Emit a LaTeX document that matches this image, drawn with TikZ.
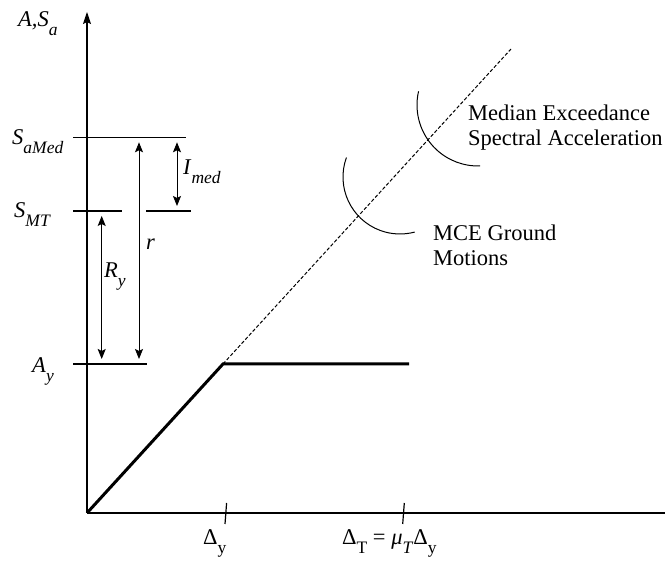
\documentclass[tikz,border=0pt]{standalone}
\usepackage{fontspec}
\setmainfont{Liberation Serif}
\usetikzlibrary{arrows.meta,positioning,calc}

% lowered, smaller subscript
\newcommand{\sub}[1]{\raisebox{-9pt}{\fontsize{17.5}{17.5}\selectfont#1}}

\begin{document}
\begin{tikzpicture}[x=1pt, y=1pt,
  axis/.style={line width=1.3pt},
  level/.style={line width=1.2pt},
  span/.style={line width=0.8pt,
               {Stealth[length=10pt,width=8pt,inset=2pt]}-{Stealth[length=10pt,width=8pt,inset=2pt]},
               shorten <=5pt, shorten >=5pt},
  curve/.style={line width=3pt},
  proj/.style={line width=1pt, dash pattern=on 3.5pt off 2pt},
  bracket/.style={line width=1pt},
  tick/.style={line width=1.2pt},
  lbl/.style={inner sep=0pt, anchor=base west, font=\fontsize{22.5}{22.5}\selectfont},
  note/.style={inner sep=0pt, anchor=north west, align=left,
               font=\fontsize{22.5}{25}\selectfont}]
  \useasboundingbox (0,0) rectangle (665,561);

  \coordinate (O) at (87,48);
  \coordinate (ytop) at (87,549);
  \coordinate (xend) at (665,48);
  \coordinate (Y) at (223,197);
  \coordinate (P) at (409,197);
  \coordinate (U) at (511,512);
  \coordinate (tk1) at (225.8,48);
  \coordinate (tk2) at (403.5,48);

  % axes
  \draw[axis, -{Stealth[length=12pt,width=8pt,inset=2pt]}] (O) -- (ytop);
  \draw[axis] (O) -- (xend);
  \draw[tick] ($(tk1)+(0.8,10)$) -- ($(tk1)+(-0.8,-11)$);
  \draw[tick] ($(tk2)+(0.8,10)$) -- ($(tk2)+(-0.8,-11)$);

  % levels
  \coordinate (med) at (87,423.7);
  \coordinate (mt) at (87,350);
  \coordinate (ay) at (87,197);
  \draw[level] ($(med)+(-14,0)$) -- ($(med)+(99,0)$);
  \draw[level] ($(mt)+(-14,0)$) -- ($(mt)+(35,0)$);
  \draw[level] ($(mt)+(59,0)$) -- ($(mt)+(104,0)$);
  \draw[level] ($(ay)+(-14,0)$) -- ($(ay)+(60,0)$);

  % spans
  \coordinate (Rtop) at (101.7,350);
  \coordinate (Rbot) at (101.7,197);
  \coordinate (rtop) at (139,423.7);
  \coordinate (rbot) at (139,197);
  \coordinate (itop) at (177,423.7);
  \coordinate (ibot) at (177,350);
  \draw[span] (Rtop) -- (Rbot);
  \draw[span] (rtop) -- (rbot);
  \draw[span] (itop) -- (ibot);

  % response
  \draw[proj] (Y) -- (U);
  \draw[curve, line join=miter] (O) -- (Y) -- (P);

  % arcs
  \draw[bracket] ($(478,456)+(167:61)$) arc[start angle=167, end angle=272, radius=61];
  \draw[bracket] ($(400,384)+(160:57)$) arc[start angle=160, end angle=285, radius=57];

  % labels
  \node[lbl] (AS) at (18,534) {\textit{A,S}\sub{\textit{a}}};
  \node[lbl] (SMed) at (12,416) {\textit{S}\sub{\textit{aMed}}};
  \node[lbl] (SMT) at (14,343) {\textit{S}\sub{\textit{MT}}};
  \node[lbl] (Ay) at (32,188) {\textit{A}\sub{\textit{y}}};
  \node[lbl] (Ry) at (104,283) {\textit{R}\sub{\textit{y}}};
  \node[lbl] (r) at (146,311) {\textit{r}};
  \node[lbl] (Imed) at (183,386) {\textit{I}\sub{\textit{med}}};
  \node[lbl] (Dy) at (203,16) {Δ\sub{y}};
  \node[lbl] (DT) at (342,16) {Δ\sub{T} = \textit{μ}\sub{\textit{T}}Δ\sub{y}};

  \node[note] (medtxt) at (468,456) {Median Exceedance\\Spectral Acceleration};
  \node[note] (mcetxt) at (433,336) {MCE Ground\\Motions};
\end{tikzpicture}
\end{document}
